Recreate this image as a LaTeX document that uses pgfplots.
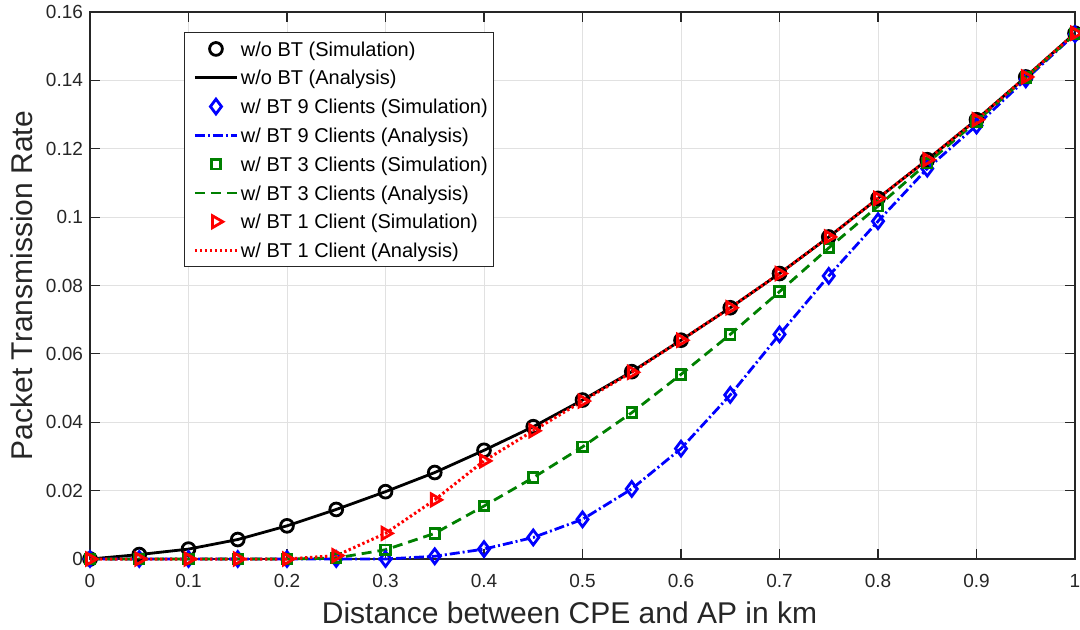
\documentclass[border=0pt]{standalone}
\usepackage{fontspec}
\setmainfont{Liberation Sans}
\usepackage{pgfplots}
\usepackage{pgfplotstable}
\pgfplotsset{compat=1.18}

\definecolor{axgray}{RGB}{38,38,38}
\definecolor{gridgray}{RGB}{225,225,225}
\definecolor{mgreen}{RGB}{0,128,0}

% Packet transmission rate vs. CPE--AP distance (km)
\pgfplotstableread{
x     nobt    bt9     bt3     bt1
0.00  0.0000  0.0000  0.0000  0.0000
0.05  0.0013  0.0000  0.0000  0.0000
0.10  0.0029  0.0000  0.0000  0.0000
0.15  0.0057  0.0000  0.0000  0.0000
0.20  0.0097  0.0000  0.0000  0.0000
0.25  0.0145  0.0000  0.0003  0.0010
0.30  0.0197  0.0000  0.0027  0.0075
0.35  0.0253  0.0008  0.0075  0.0173
0.40  0.0318  0.0029  0.0155  0.0287
0.45  0.0387  0.0063  0.0238  0.0375
0.50  0.0465  0.0116  0.0328  0.0462
0.55  0.0548  0.0205  0.0428  0.0546
0.60  0.0640  0.0323  0.0540  0.0640
0.65  0.0735  0.0480  0.0657  0.0735
0.70  0.0835  0.0657  0.0782  0.0835
0.75  0.0942  0.0828  0.0910  0.0942
0.80  0.1055  0.0988  0.1032  0.1055
0.85  0.1168  0.1142  0.1158  0.1168
0.90  0.1285  0.1268  0.1280  0.1285
0.95  0.1410  0.1403  0.1408  0.1410
1.00  0.1538  0.1535  0.1535  0.1538
}\ptr

\begin{document}
\begin{tikzpicture}
\path[use as bounding box] (-45pt,-35pt) rectangle (495pt,279.5pt);
\begin{axis}[
  scale only axis,
  width=492.5pt, height=273.5pt,
  at={(0,0)}, anchor=south west,
  xmin=0, xmax=1, ymin=0, ymax=0.16,
  xtick={0,0.1,0.2,0.3,0.4,0.5,0.6,0.7,0.8,0.9,1},
  xticklabels={0,0.1,0.2,0.3,0.4,0.5,0.6,0.7,0.8,0.9,1},
  ytick={0,0.02,0.04,0.06,0.08,0.1,0.12,0.14,0.16},
  yticklabels={0,0.02,0.04,0.06,0.08,0.1,0.12,0.14,0.16},
  grid=major,
  major grid style={gridgray, line width=0.5pt},
  tick align=inside,
  major tick length=5pt,
  axis line style={axgray, line width=0.6pt},
  tick style={axgray, line width=0.6pt},
  ticklabel style={font=\fontsize{9.5}{11}\selectfont, text=axgray},
  xticklabel style={yshift=-4pt},
  xlabel={Distance between CPE and AP in km},
  ylabel={Packet Transmission Rate},
  label style={font=\fontsize{15}{18}\selectfont, text=axgray},
  xlabel style={at={(axis description cs:0.5,0)}, anchor=base, yshift=-32pt, xshift=-6.5pt},
  ylabel style={at={(axis description cs:0,0.5)}, anchor=base, yshift=28.5pt},
  clip=false,
  legend cell align=left,
  legend style={
    at={(0.0954,0.9634)}, anchor=north west,
    draw=axgray, line width=0.5pt, fill=white,
    font=\fontsize{10}{12}\selectfont,
    inner xsep=3pt, inner ysep=1pt,
    column sep=1.25pt, row sep=0pt,
    nodes={inner sep=0pt, text height=10.8pt, text depth=3.6pt},
  },
  legend image code/.code={%
    \path (0pt,0pt);
    \draw[mark repeat=2,mark phase=2,#1]
      plot coordinates {(1.5pt,0pt) (12pt,0pt) (22.5pt,0pt)};},
]
% without BT
\addplot[only marks, black, mark=o, mark size=3.2pt, line width=1.4pt]
  table[x=x,y=nobt]{\ptr};
\addlegendentry{w/o BT (Simulation)}
\addplot[black, line width=1.4pt, mark=none]
  table[x=x,y=nobt]{\ptr};
\addlegendentry{w/o BT (Analysis)}
% BT, 9 clients
\addplot[only marks, blue, mark=diamond, mark size=3.7pt, line width=1.4pt]
  table[x=x,y=bt9]{\ptr};
\addlegendentry{w/ BT 9 Clients (Simulation)}
\addplot[blue, line width=1.4pt, mark=none, dash pattern=on 5pt off 1.5pt on 1pt off 1.5pt]
  table[x=x,y=bt9]{\ptr};
\addlegendentry{w/ BT 9 Clients (Analysis)}
% BT, 3 clients
\addplot[only marks, mgreen, mark=square, mark size=2.4pt, line width=1.4pt]
  table[x=x,y=bt3]{\ptr};
\addlegendentry{w/ BT 3 Clients (Simulation)}
\addplot[mgreen, line width=1.4pt, mark=none, dash pattern=on 5pt off 3pt]
  table[x=x,y=bt3]{\ptr};
\addlegendentry{w/ BT 3 Clients (Analysis)}
% BT, 1 client
\addplot[only marks, red, mark=triangle, mark options={rotate=-90}, mark size=3.4pt, line width=1.4pt]
  table[x=x,y=bt1]{\ptr};
\addlegendentry{w/ BT 1 Client (Simulation)}
\addplot[red, line width=1.5pt, mark=none, dash pattern=on 1.2pt off 1.3pt]
  table[x=x,y=bt1]{\ptr};
\addlegendentry{w/ BT 1 Client (Analysis)}
\end{axis}
\end{tikzpicture}
\end{document}
